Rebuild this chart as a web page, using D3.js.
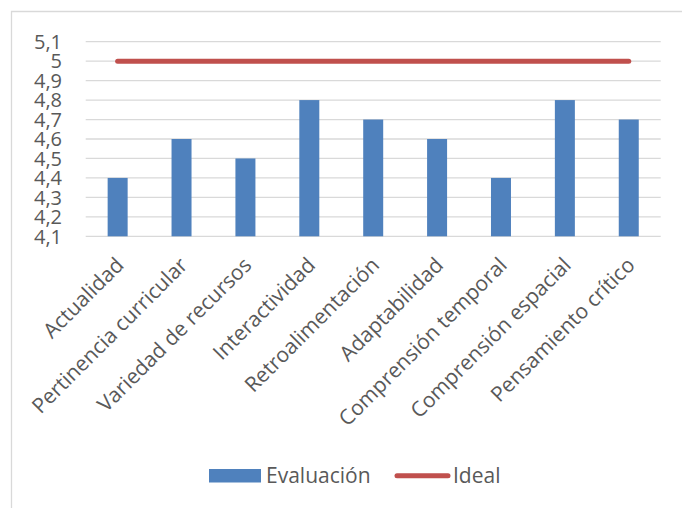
<!DOCTYPE html>
<html>
<head>
<meta charset="utf-8">
<script src="https://cdn.jsdelivr.net/npm/d3@7"></script>
<style>
  body { margin: 0; background: #fff; }
  svg text { font-family: "Open Sans", "Noto Sans", sans-serif; fill: #595959; }
</style>
</head>
<body>
<script>
var categorias = ["Actualidad", "Pertinencia curricular", "Variedad de recursos", "Interactividad",
    "Retroalimentación", "Adaptabilidad", "Comprensión temporal", "Comprensión espacial", "Pensamiento crítico"];
var evaluacion = [4.4, 4.6, 4.5, 4.8, 4.7, 4.6, 4.4, 4.8, 4.7];
var ideal = [5, 5, 5, 5, 5, 5, 5, 5, 5];
var yTicks = [4.1, 4.2, 4.3, 4.4, 4.5, 4.6, 4.7, 4.8, 4.9, 5, 5.1];
var seriesNames = ["Evaluación", "Ideal"];

var w = 682;
var h = 508;
var blue = "#4F81BD";
var red = "#C0504D";
var fontSize = 21;

var svg = d3.select("body")
    .append("svg")
    .attr("width", w)
    .attr("height", h);

// chart frame (only left and top edges show in the crop)
svg.append("path")
    .attr("d", "M11.5,508 L11.5,11.5 L682,11.5")
    .attr("fill", "none")
    .attr("stroke", "#D9D9D9")
    .attr("stroke-width", 1.3);

var xScale = d3.scaleBand()
    .domain(categorias)
    .range([85.7, 660.7])
    .paddingInner(0.687)
    .paddingOuter(0.3435);

var yScale = d3.scaleLinear()
    .domain([4.1, 5.1])
    .range([236.3, 41.7]);

var fmt = function(d) {
    return d3.format(".1~f")(d).replace(".", ",");
};

// gridlines
svg.append("g")
    .selectAll("line")
    .data(yTicks)
    .enter()
    .append("line")
    .attr("x1", 85.7)
    .attr("x2", 660.7)
    .attr("y1", function(d) { return yScale(d); })
    .attr("y2", function(d) { return yScale(d); })
    .attr("stroke", "#D9D9D9")
    .attr("stroke-width", 1.3);

// y labels
svg.append("g")
    .selectAll("text")
    .data(yTicks)
    .enter()
    .append("text")
    .attr("x", 62)
    .attr("y", function(d) { return yScale(d); })
    .attr("dy", "0.36em")
    .attr("text-anchor", "end")
    .style("font-size", "20px")
    .text(fmt);

// bars
svg.append("g")
    .selectAll("rect")
    .data(evaluacion)
    .enter()
    .append("rect")
    .attr("x", function(d, i) { return xScale(categorias[i]); })
    .attr("width", xScale.bandwidth())
    .attr("y", function(d) { return yScale(d); })
    .attr("height", function(d) { return yScale(4.1) - yScale(d); })
    .attr("fill", blue);

// ideal line
var line = d3.line()
    .x(function(d, i) { return xScale(categorias[i]) + xScale.bandwidth() / 2; })
    .y(function(d) { return yScale(d); });

svg.append("path")
    .datum(ideal)
    .attr("d", line)
    .attr("fill", "none")
    .attr("stroke", red)
    .attr("stroke-width", 5)
    .attr("stroke-linecap", "round");

// x labels, rotated
svg.append("g")
    .selectAll("text")
    .data(categorias)
    .enter()
    .append("text")
    .attr("transform", function(d) {
        var cx = xScale(d) + xScale.bandwidth() / 2;
        return "translate(" + (cx - 3) + ",256) rotate(-45)";
    })
    .attr("text-anchor", "end")
    .attr("dy", "0.7em")
    .style("font-size", fontSize + "px")
    .text(function(d) { return d; });

// legend
var legend = svg.append("g");
legend.append("rect")
    .attr("x", 209)
    .attr("y", 469)
    .attr("width", 52)
    .attr("height", 13.5)
    .attr("fill", blue);
legend.append("text")
    .attr("x", 266)
    .attr("y", 483)
    .style("font-size", fontSize + "px")
    .text(seriesNames[0]);
legend.append("line")
    .attr("x1", 397)
    .attr("x2", 448)
    .attr("y1", 475.7)
    .attr("y2", 475.7)
    .attr("stroke", red)
    .attr("stroke-width", 5)
    .attr("stroke-linecap", "round");
legend.append("text")
    .attr("x", 453)
    .attr("y", 483)
    .style("font-size", fontSize + "px")
    .text(seriesNames[1]);
</script>
</body>
</html>
